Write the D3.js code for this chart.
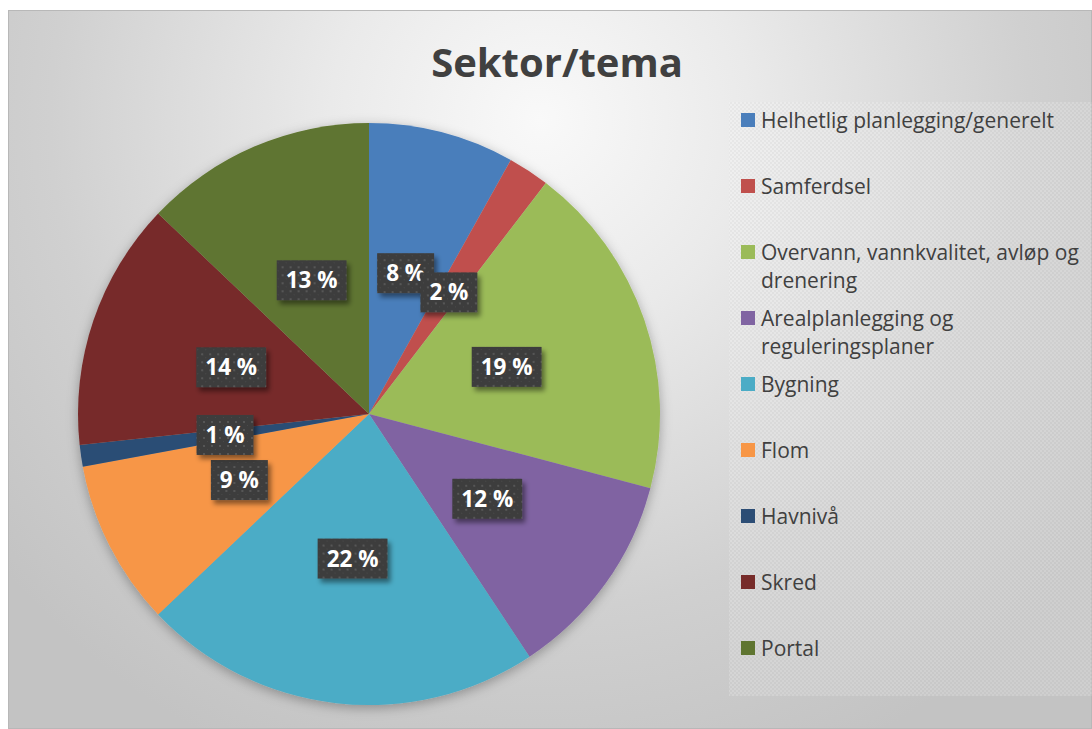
<!DOCTYPE html>
<html>
<head>
<meta charset="utf-8">
<script src="https://cdn.jsdelivr.net/npm/d3@7"></script>
<style>
  html, body { margin: 0; padding: 0; background: #ffffff; }
  svg { display: block; }
</style>
</head>
<body>
<div id="chart"></div>
<script>
// ---- data ----
const title = "Sektor/tema";
const categories = [
  "Helhetlig planlegging/generelt",
  "Samferdsel",
  "Overvann, vannkvalitet, avløp og drenering",
  "Arealplanlegging og reguleringsplaner",
  "Bygning",
  "Flom",
  "Havnivå",
  "Skred",
  "Portal"
];
const values = [8.1, 2.3, 18.7, 11.6, 22.2, 9.2, 1.2, 13.8, 12.9];
const legendLines = [
  ["Helhetlig planlegging/generelt"],
  ["Samferdsel"],
  ["Overvann, vannkvalitet, avløp og", "drenering"],
  ["Arealplanlegging og", "reguleringsplaner"],
  ["Bygning"],
  ["Flom"],
  ["Havnivå"],
  ["Skred"],
  ["Portal"]
];
const colors = ["#4a7ebb", "#c0504d", "#9bbb59", "#8064a2", "#4bacc6",
                "#f79646", "#2c4d75", "#772c2a", "#5f7530"];

// ---- layout ----
const W = 1092, H = 729;
const FONT = "'Open Sans', Lato, sans-serif";
const svg = d3.select("#chart").append("svg").attr("width", W).attr("height", H);
const defs = svg.append("defs");

const bg = defs.append("radialGradient").attr("id", "bg")
  .attr("gradientUnits", "userSpaceOnUse")
  .attr("cx", 540).attr("cy", 120).attr("r", 700);
bg.append("stop").attr("offset", 0).attr("stop-color", "#f9f9f9");
bg.append("stop").attr("offset", 0.3).attr("stop-color", "#eaeaea");
bg.append("stop").attr("offset", 0.7).attr("stop-color", "#d0d0d0");
bg.append("stop").attr("offset", 1).attr("stop-color", "#c3c3c3");

const lp = defs.append("pattern").attr("id", "legpat")
  .attr("patternUnits", "userSpaceOnUse").attr("width", 4).attr("height", 4);
lp.append("rect").attr("width", 4).attr("height", 4).attr("fill", "rgba(255,255,255,0.2)");
lp.append("rect").attr("x", 0).attr("y", 0).attr("width", 2).attr("height", 2).attr("fill", "rgba(0,0,0,0.035)");
lp.append("rect").attr("x", 2).attr("y", 2).attr("width", 2).attr("height", 2).attr("fill", "rgba(0,0,0,0.035)");

const bp = defs.append("pattern").attr("id", "boxpat")
  .attr("patternUnits", "userSpaceOnUse").attr("width", 8).attr("height", 8);
bp.append("rect").attr("width", 8).attr("height", 8).attr("fill", "#3d3d3d");
bp.append("rect").attr("x", 2).attr("y", 2).attr("width", 2).attr("height", 2).attr("fill", "#575757");
bp.append("rect").attr("x", 6).attr("y", 6).attr("width", 1).attr("height", 1).attr("fill", "#4b4b4b");

const pieShadow = defs.append("filter").attr("id", "pieShadow")
  .attr("x", "-20%").attr("y", "-20%").attr("width", "140%").attr("height", "140%");
pieShadow.append("feDropShadow").attr("dx", 0).attr("dy", 3).attr("stdDeviation", 6)
  .attr("flood-color", "#000").attr("flood-opacity", 0.3);

const boxShadow = defs.append("filter").attr("id", "boxShadow")
  .attr("x", "-30%").attr("y", "-30%").attr("width", "160%").attr("height", "160%");
boxShadow.append("feDropShadow").attr("dx", 3).attr("dy", 4).attr("stdDeviation", 2.5)
  .attr("flood-color", "#000").attr("flood-opacity", 0.45);

// chart area
svg.append("rect").attr("x", 8.5).attr("y", 10.5).attr("width", W - 9).attr("height", H - 11)
  .attr("fill", "url(#bg)").attr("stroke", "#b8b8b8").attr("stroke-width", 1);

// title
svg.append("text").attr("x", 557).attr("y", 77).attr("text-anchor", "middle")
  .attr("font-family", FONT).attr("font-weight", 700)
  .attr("font-size", 40).attr("fill", "#404040").text(title);

// legend
const legX = 729, legY = 102, legW = W - 729, legH = 594;
svg.append("rect").attr("x", legX).attr("y", legY).attr("width", legW).attr("height", legH)
  .attr("fill", "url(#legpat)");

const ly = d3.scaleLinear().domain([0, categories.length - 1]).range([120, 648]);
const leg = svg.append("g");
const items = leg.selectAll("g.item").data(categories).join("g").attr("class", "item")
  .attr("transform", (d, i) => `translate(741,${ly(i)})`);
items.append("rect").attr("x", 0).attr("y", -7).attr("width", 14).attr("height", 14)
  .attr("fill", (d, i) => colors[i]);
items.append("text")
  .attr("font-family", FONT).attr("font-size", 21)
  .attr("fill", "#404040")
  .selectAll("tspan").data((d, i) => legendLines[i]).join("tspan")
  .attr("x", 20).attr("y", (d, j) => 7.5 + j * 28).text(d => d);

// pie
const cx = 369, cy = 414, R = 291;
const pie = d3.pie().sort(null).value(d => d);
const arcs = pie(values);
const arc = d3.arc().innerRadius(0).outerRadius(R);
const g = svg.append("g").attr("transform", `translate(${cx},${cy})`);
g.append("g").attr("filter", "url(#pieShadow)")
  .selectAll("path").data(arcs).join("path")
  .attr("d", arc).attr("fill", (d, i) => colors[i]);

// labels
const total = d3.sum(values);
const fmt = v => Math.round(v / total * 100) + " %";
const lab = g.append("g").selectAll("g").data(arcs).join("g")
  .attr("transform", d => `translate(${arc.centroid(d)})`);
lab.each(function(d) {
  const sel = d3.select(this);
  const t = sel.append("text").attr("text-anchor", "middle").attr("dy", "0.36em")
    .attr("font-family", FONT).attr("font-weight", 700)
    .attr("font-size", 22.5).attr("fill", "#ffffff").text(fmt(d.value));
  const w = t.node().getComputedTextLength() + 18;
  const h = 40;
  sel.insert("rect", "text").attr("x", -w / 2).attr("y", -h / 2).attr("width", w).attr("height", h)
    .attr("fill", "url(#boxpat)").attr("filter", "url(#boxShadow)");
});
</script>
</body>
</html>
